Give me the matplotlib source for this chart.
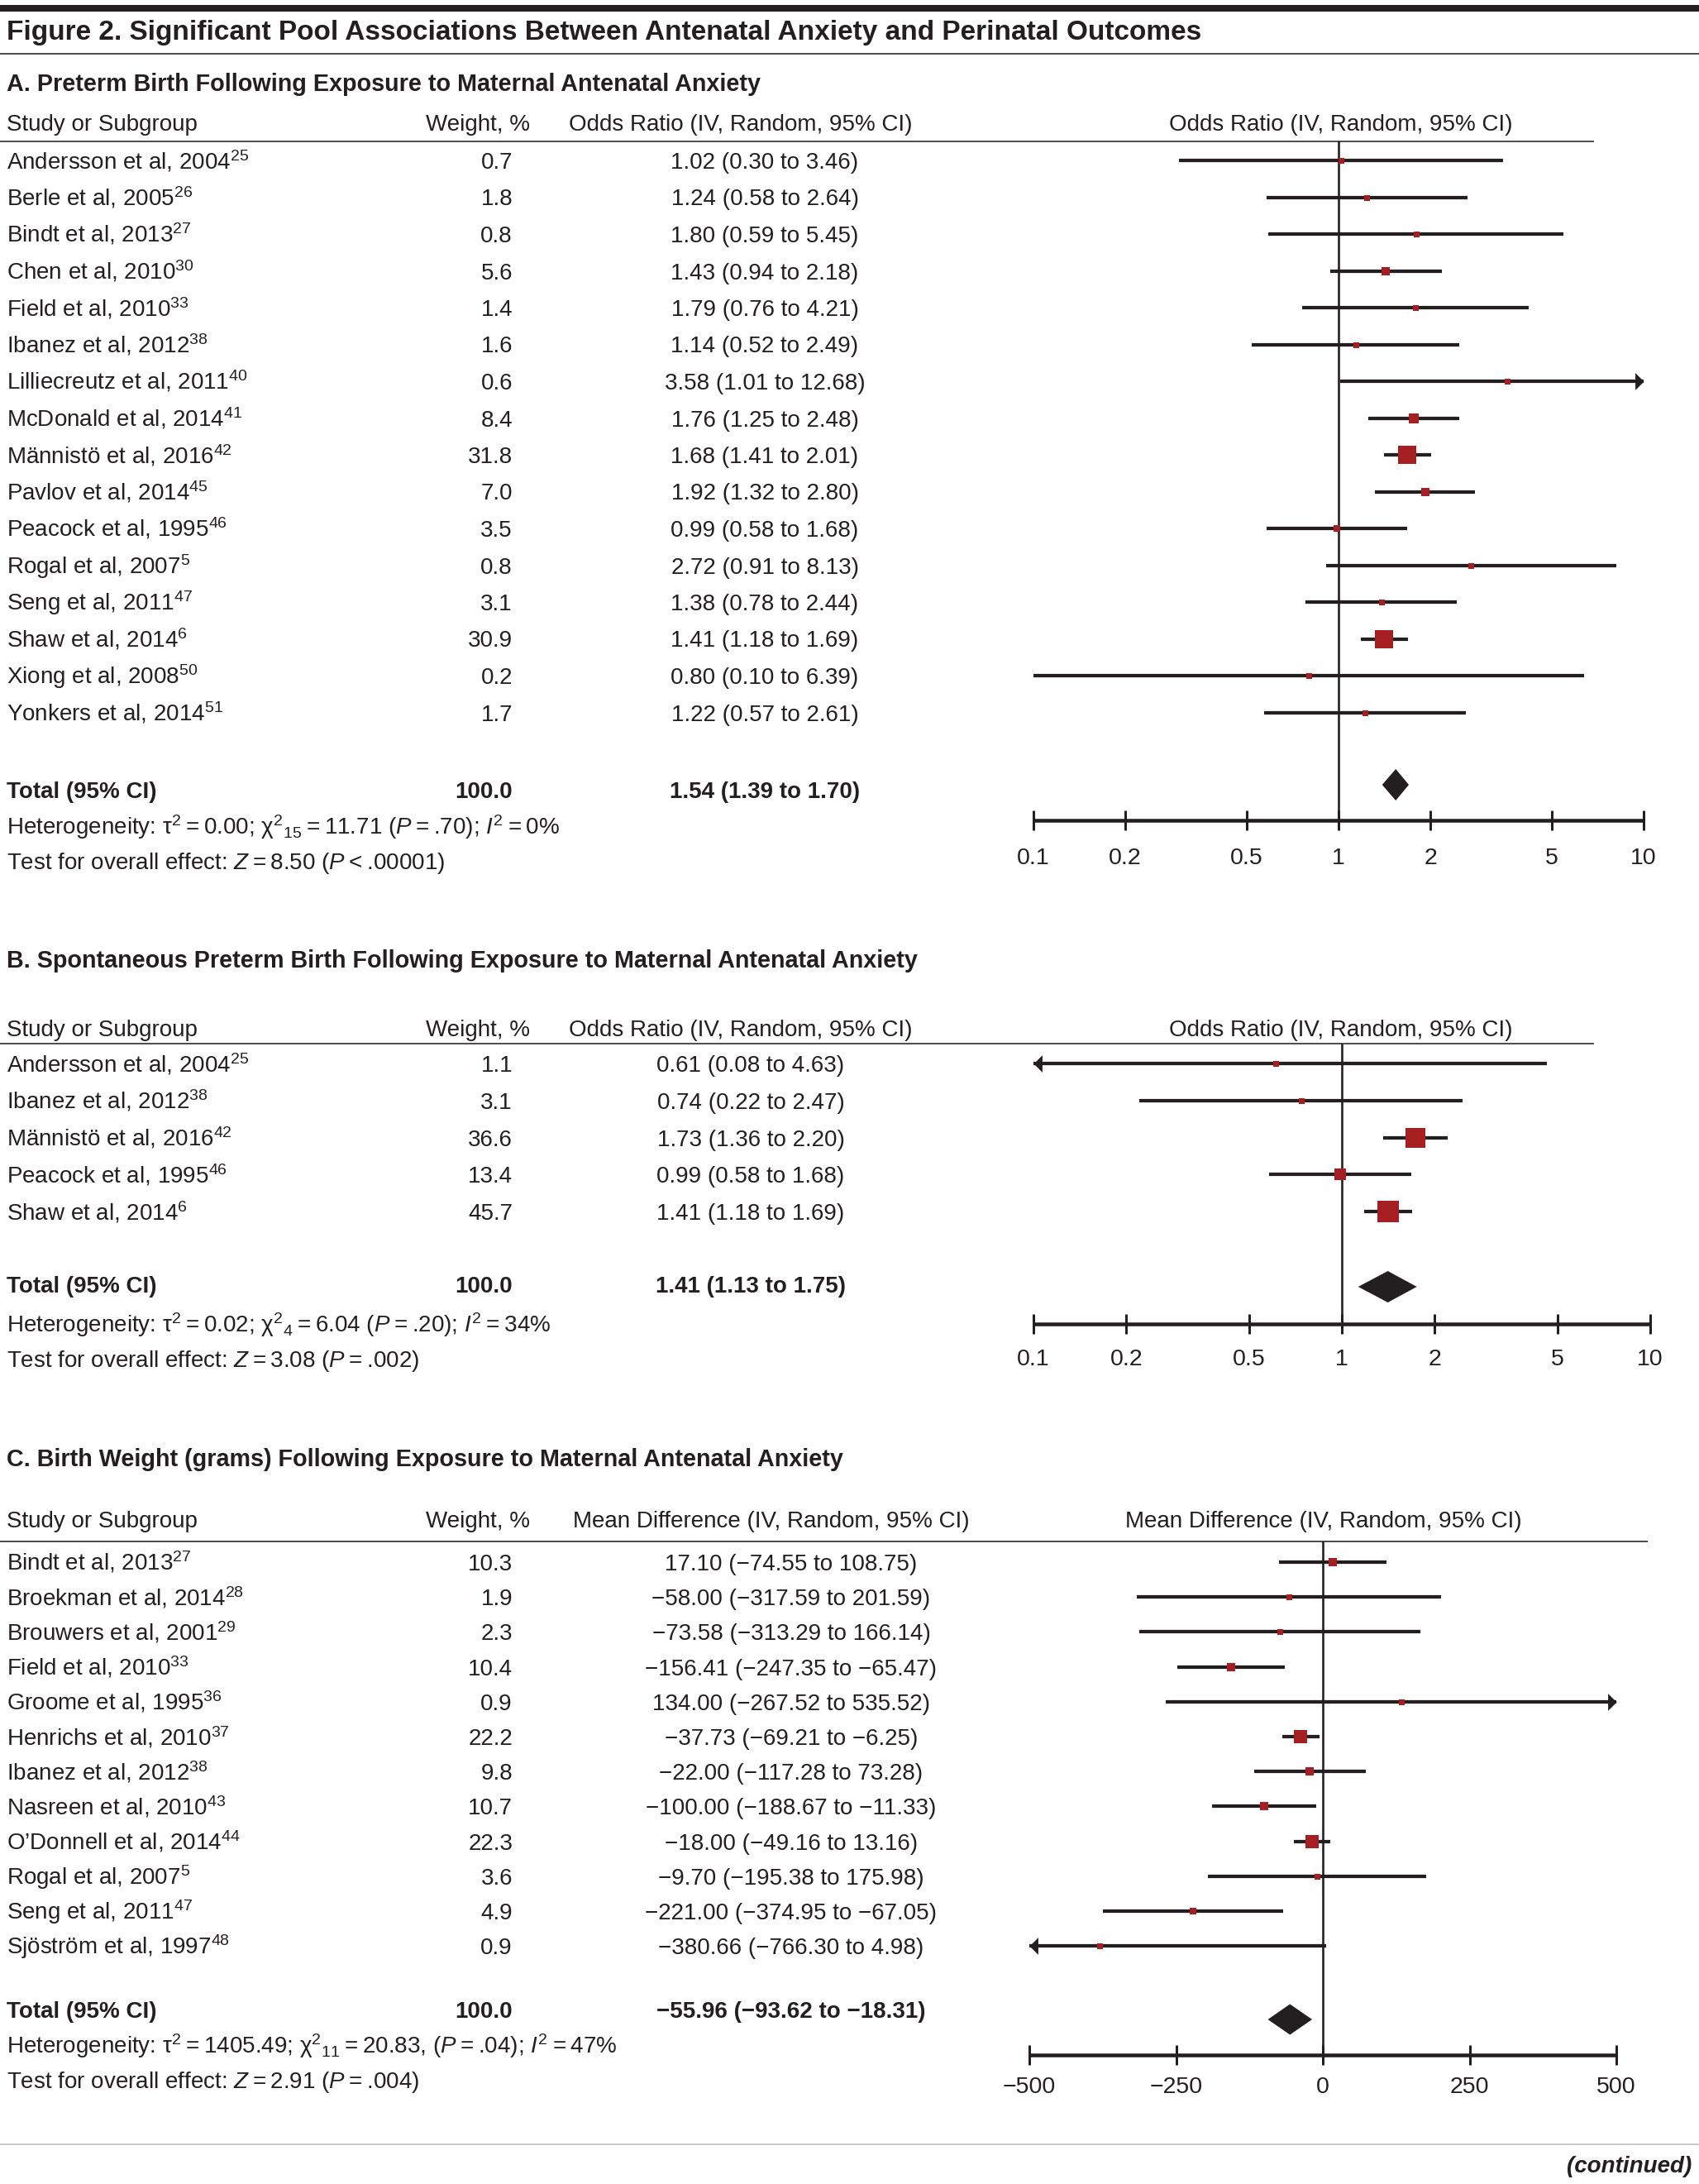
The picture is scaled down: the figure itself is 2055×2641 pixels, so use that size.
import matplotlib
matplotlib.use("Agg")
import matplotlib.pyplot as plt
import numpy as np

W, H = 2055, 2641
PT = 0.72          # pixels -> points at dpi 100
INK = "#231f20"
RED = "#a41e22"
MINUS = "\u2212"

# ---------------- data ----------------
# A. preterm birth
studies_a = ["Andersson et al, 2004", "Berle et al, 2005", "Bindt et al, 2013", "Chen et al, 2010",
             "Field et al, 2010", "Ibanez et al, 2012", "Lilliecreutz et al, 2011", "McDonald et al, 2014",
             "Männistö et al, 2016", "Pavlov et al, 2014", "Peacock et al, 1995", "Rogal et al, 2007",
             "Seng et al, 2011", "Shaw et al, 2014", "Xiong et al, 2008", "Yonkers et al, 2014"]
refs_a = ["25", "26", "27", "30", "33", "38", "40", "41", "42", "45", "46", "5", "47", "6", "50", "51"]
weights_a = [0.7, 1.8, 0.8, 5.6, 1.4, 1.6, 0.6, 8.4, 31.8, 7.0, 3.5, 0.8, 3.1, 30.9, 0.2, 1.7]
or_a = [1.02, 1.24, 1.80, 1.43, 1.79, 1.14, 3.58, 1.76, 1.68, 1.92, 0.99, 2.72, 1.38, 1.41, 0.80, 1.22]
lo_a = [0.30, 0.58, 0.59, 0.94, 0.76, 0.52, 1.01, 1.25, 1.41, 1.32, 0.58, 0.91, 0.78, 1.18, 0.10, 0.57]
hi_a = [3.46, 2.64, 5.45, 2.18, 4.21, 2.49, 12.68, 2.48, 2.01, 2.80, 1.68, 8.13, 2.44, 1.69, 6.39, 2.61]
total_a = [1.54, 1.39, 1.70]

# B. spontaneous preterm birth
studies_b = ["Andersson et al, 2004", "Ibanez et al, 2012", "Männistö et al, 2016",
             "Peacock et al, 1995", "Shaw et al, 2014"]
refs_b = ["25", "38", "42", "46", "6"]
weights_b = [1.1, 3.1, 36.6, 13.4, 45.7]
or_b = [0.61, 0.74, 1.73, 0.99, 1.41]
lo_b = [0.08, 0.22, 1.36, 0.58, 1.18]
hi_b = [4.63, 2.47, 2.20, 1.68, 1.69]
total_b = [1.41, 1.13, 1.75]

# C. birth weight
studies_c = ["Bindt et al, 2013", "Broekman et al, 2014", "Brouwers et al, 2001", "Field et al, 2010",
             "Groome et al, 1995", "Henrichs et al, 2010", "Ibanez et al, 2012", "Nasreen et al, 2010",
             "O\u2019Donnell et al, 2014", "Rogal et al, 2007", "Seng et al, 2011", "Sjöström et al, 1997"]
refs_c = ["27", "28", "29", "33", "36", "37", "38", "43", "44", "5", "47", "48"]
weights_c = [10.3, 1.9, 2.3, 10.4, 0.9, 22.2, 9.8, 10.7, 22.3, 3.6, 4.9, 0.9]
md_c = [17.10, -58.00, -73.58, -156.41, 134.00, -37.73, -22.00, -100.00, -18.00, -9.70, -221.00, -380.66]
lo_c = [-74.55, -317.59, -313.29, -247.35, -267.52, -69.21, -117.28, -188.67, -49.16, -195.38, -374.95, -766.30]
hi_c = [108.75, 201.59, 166.14, -65.47, 535.52, -6.25, 73.28, -11.33, 13.16, 175.98, -67.05, 4.98]
total_c = [-55.96, -93.62, -18.31]

or_ticks = [0.1, 0.2, 0.5, 1, 2, 5, 10]
or_ticklabels = ["0.1", "0.2", "0.5", "1", "2", "5", "10"]
md_ticks = [-500, -250, 0, 250, 500]
md_ticklabels = [MINUS + "500", MINUS + "250", "0", "250", "500"]

title = "Figure 2. Significant Pool Associations Between Antenatal Anxiety and Perinatal Outcomes"
panel_titles = ["A. Preterm Birth Following Exposure to Maternal Antenatal Anxiety",
                "B. Spontaneous Preterm Birth Following Exposure to Maternal Antenatal Anxiety",
                "C. Birth Weight (grams) Following Exposure to Maternal Antenatal Anxiety"]
het_a = ["Heterogeneity: \u03c4$^{2}$\u2009=\u20090.00; \u03c7$^{2}{}_{15}$\u2009=\u200911.71 ($P$\u2009=\u2009.70); $I^{2}$\u2009=\u20090%",
         "Test for overall effect: $Z$\u2009=\u20098.50 ($P$\u2009<\u2009.00001)"]
het_b = ["Heterogeneity: \u03c4$^{2}$\u2009=\u20090.02; \u03c7$^{2}{}_{4}$\u2009=\u20096.04 ($P$\u2009=\u2009.20); $I^{2}$\u2009=\u200934%",
         "Test for overall effect: $Z$\u2009=\u20093.08 ($P$\u2009=\u2009.002)"]
het_c = ["Heterogeneity: \u03c4$^{2}$\u2009=\u20091405.49; \u03c7$^{2}{}_{11}$\u2009=\u200920.83, ($P$\u2009=\u2009.04); $I^{2}$\u2009=\u200947%",
         "Test for overall effect: $Z$\u2009=\u20092.91 ($P$\u2009=\u2009.004)"]

plt.rcParams["font.family"] = ["Liberation Sans", "DejaVu Sans"]
plt.rcParams["mathtext.fontset"] = "custom"
plt.rcParams["mathtext.rm"] = "Liberation Sans"
plt.rcParams["mathtext.it"] = "Liberation Sans:italic"
plt.rcParams["mathtext.bf"] = "Liberation Sans:bold"
plt.rcParams["text.color"] = INK

FS = 20

fig = plt.figure(figsize=(W / 100, H / 100), dpi=100)
bg = fig.add_axes([0, 0, 1, 1])
bg.set_xlim(0, W)
bg.set_ylim(H, 0)
bg.axis("off")


def txt(x, y, s, ha="left", size=FS, weight="normal", style="normal"):
    # y is the visual centre of the capitals, in pixels
    bg.text(x, y + 0.5 * size, s, ha=ha, va="baseline", fontsize=size,
            fontweight=weight, fontstyle=style, color=INK)


def hline(y, x0, x1, lw_px, color=INK):
    bg.plot([x0, x1], [y, y], lw=lw_px * PT, color=color, solid_capstyle="butt")


def fmt(v, nd=2):
    return f"{v:.{nd}f}".replace("-", MINUS)


def ci_text(e, l, h):
    return f"{fmt(e)} ({fmt(l)} to {fmt(h)})"


def panel(studies, refs, weights, est, lo, hi, total, het, lay):
    # header
    txt(8, lay["head_y"], "Study or Subgroup")
    txt(578, lay["head_y"], "Weight, %", ha="center")
    txt(lay["colhead_x"], lay["head_y"], lay["colhead"], ha="center")
    txt(lay["plothead_x"], lay["head_y"], lay["colhead"], ha="center")
    hline(lay["line_y"], 0, lay["line_x1"], 2, "#505050")

    rows = lay["row0"] + lay["dy"] * np.arange(len(studies))
    for name, ref, wt, e, l, h, y in zip(studies, refs, weights, est, lo, hi, rows):
        txt(8, y, name + "$^{" + ref + "}$")
        txt(620, y, f"{wt:.1f}", ha="right")
        txt(lay["val_x"], y, ci_text(e, l, h), ha="center")

    ty = lay["total_y"]
    txt(8, ty, "Total (95% CI)", weight="bold")
    txt(620, ty, "100.0", ha="right", weight="bold")
    txt(lay["val_x"], ty, ci_text(*total), ha="center", weight="bold")
    txt(8, lay["het_y"], het[0])
    txt(8, lay["het_y"] + 42, het[1])

    # forest plot
    x0, x1 = lay["x0"], lay["x1"]
    top, bot = lay["line_y"], lay["axis_y"]
    ax = fig.add_axes([x0 / W, 1 - bot / H, (x1 - x0) / W, (bot - top) / H])
    ax.patch.set_visible(False)
    if lay["log"]:
        ax.set_xscale("log")
    xmin, xmax = lay["xlim"]
    ax.set_xlim(xmin, xmax)
    ax.set_ylim(bot, top)
    for s in ("top", "right", "left"):
        ax.spines[s].set_visible(False)
    ax.spines["bottom"].set_linewidth(4.5 * PT)
    ax.spines["bottom"].set_color(INK)
    ax.spines["bottom"].set_capstyle("butt")
    ax.set_xticks(lay["ticks"])
    ax.set_xticklabels(lay["ticklabels"])
    ax.minorticks_off()
    ax.set_yticks([])
    ax.tick_params(axis="x", direction="inout", length=24 * PT, width=3 * PT,
                   pad=lay["pad"], labelsize=20.5, colors=INK)
    ax.axvline(lay["ref"], color=INK, lw=2.6 * PT, zorder=1)

    for wt, e, l, h, y in zip(weights, est, lo, hi, rows):
        l2, h2 = max(l, xmin), min(h, xmax)
        ax.plot([l2, h2], [y, y], color=INK, lw=4.2 * PT, solid_capstyle="butt",
                clip_on=False, zorder=2)
        if h > xmax:
            ax.plot(h2, y, marker=[(0, 0), (-1, 1), (-1, -1), (0, 0)], ms=15,
                    color=INK, mew=0, clip_on=False, zorder=2)
        if l < xmin:
            ax.plot(l2, y, marker=[(0, 0), (1, 1), (1, -1), (0, 0)], ms=15,
                    color=INK, mew=0, clip_on=False, zorder=2)
        side = max(lay["box_k"] * np.sqrt(wt), 7)
        ax.plot(e, y, marker="s", ms=side * PT, color=RED, mew=0, zorder=3, clip_on=False)

    te, tl, th = total
    dh = lay["dia_h"]
    dy_ = lay["dia_y"]
    ax.fill([tl, te, th, te], [dy_, dy_ - dh, dy_, dy_ + dh], color=INK, lw=0, zorder=3)


# ---------------- figure frame ----------------
hline(10, 0, W, 8)
txt(8, 36, title, size=24, weight="bold")
hline(65, 0, W, 2, "#505050")

txt(8, 100, panel_titles[0], size=20.7, weight="bold")
panel(studies_a, refs_a, weights_a, or_a, lo_a, hi_a, total_a, het_a,
      dict(head_y=148, colhead="Odds Ratio (IV, Random, 95% CI)", colhead_x=896, plothead_x=1622,
           line_y=171, line_x1=1928, row0=194, dy=44.5, val_x=925, total_y=955, dia_y=949,
           dia_h=19, het_y=999, x0=1250, x1=1988, axis_y=992, log=True, xlim=(0.1, 10),
           ticks=or_ticks, ticklabels=or_ticklabels, ref=1, box_k=3.9, pad=15))

txt(8, 1160, panel_titles[1], size=20.7, weight="bold")
panel(studies_b, refs_b, weights_b, or_b, lo_b, hi_b, total_b, het_b,
      dict(head_y=1243, colhead="Odds Ratio (IV, Random, 95% CI)", colhead_x=896, plothead_x=1622,
           line_y=1262, line_x1=1928, row0=1286, dy=44.8, val_x=908, total_y=1553, dia_y=1556,
           dia_h=19, het_y=1601, x0=1250, x1=1996, axis_y=1601, log=True, xlim=(0.1, 10),
           ticks=or_ticks, ticklabels=or_ticklabels, ref=1, box_k=3.9, pad=13))

txt(8, 1763, panel_titles[2], size=20.7, weight="bold")
panel(studies_c, refs_c, weights_c, md_c, lo_c, hi_c, total_c, het_c,
      dict(head_y=1837, colhead="Mean Difference (IV, Random, 95% CI)", colhead_x=933, plothead_x=1601,
           line_y=1864, line_x1=1993, row0=1889, dy=42.2, val_x=957, total_y=2430, dia_y=2442,
           dia_h=18.5, het_y=2473, x0=1245, x1=1955, axis_y=2485, log=False, xlim=(-500, 500),
           ticks=md_ticks, ticklabels=md_ticklabels, ref=0, box_k=3.3, pad=10))

hline(2593, 0, W, 2, "#c8c8c8")
txt(2046, 2617, "(continued)", ha="right", style="italic", weight="bold")

fig.savefig("out.png", dpi=100)
